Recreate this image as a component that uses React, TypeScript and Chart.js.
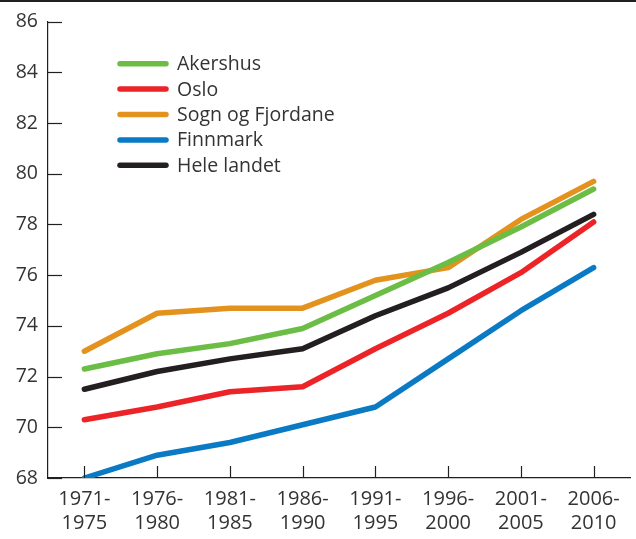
import React, { useEffect, useRef } from "react";
import { Chart, registerables } from "chart.js";

Chart.register(...registerables);

const categories: string[][] = [
  ["1971-", "1975"],
  ["1976-", "1980"],
  ["1981-", "1985"],
  ["1986-", "1990"],
  ["1991-", "1995"],
  ["1996-", "2000"],
  ["2001-", "2005"],
  ["2006-", "2010"],
];

const akershus = [72.3, 72.9, 73.3, 73.9, 75.2, 76.5, 77.9, 79.4];
const oslo = [70.3, 70.8, 71.4, 71.6, 73.1, 74.5, 76.1, 78.1];
const sognOgFjordane = [73.0, 74.5, 74.7, 74.7, 75.8, 76.3, 78.2, 79.7];
const finnmark = [68.0, 68.9, 69.4, 70.1, 70.8, 72.7, 74.6, 76.3];
const heleLandet = [71.5, 72.2, 72.7, 73.1, 74.4, 75.5, 76.9, 78.4];

const seriesNames = ["Akershus", "Oslo", "Sogn og Fjordane", "Finnmark", "Hele landet"];
const seriesColors = ["#6cbd45", "#ec2327", "#e3921e", "#0a7ac4", "#231f20"];

const yMin = 68;
const yMax = 86;
const yStep = 2;

const FONT_FAMILY = "'Open Sans', 'Noto Sans', sans-serif";
const TEXT_COLOR = "#333333";
const AXIS_COLOR = "#231f20";

const innerTicksAndLegend = {
  id: "innerTicksAndLegend",
  afterDraw(chart: any) {
    const ctx = chart.ctx;
    const area = chart.chartArea;
    const xs = chart.scales.x;
    const ys = chart.scales.y;
    ctx.save();
    ctx.strokeStyle = AXIS_COLOR;
    ctx.lineWidth = 1.2;
    // y ticks inward
    ys.ticks.forEach((t: any, i: number) => {
      const y = Math.round(ys.getPixelForTick(i)) + 0.5;
      ctx.beginPath();
      ctx.moveTo(area.left, y);
      ctx.lineTo(area.left + 14, y);
      ctx.stroke();
    });
    // x ticks inward
    categories.forEach((_, i) => {
      const x = Math.round(xs.getPixelForValue(i)) + 0.5;
      ctx.beginPath();
      ctx.moveTo(x, area.bottom);
      ctx.lineTo(x, area.bottom - 12);
      ctx.stroke();
    });
    // legend
    const lx = area.left + 72;
    const ly = area.top + 42;
    const rowH = 25.4;
    ctx.font = `19.5px ${FONT_FAMILY}`;
    ctx.textBaseline = "middle";
    ctx.textAlign = "left";
    chart.data.datasets.forEach((ds: any, i: number) => {
      const y = ly + i * rowH;
      ctx.strokeStyle = ds.borderColor;
      ctx.lineWidth = 5.5;
      ctx.lineCap = "round";
      ctx.beginPath();
      ctx.moveTo(lx, y);
      ctx.lineTo(lx + 46, y);
      ctx.stroke();
      ctx.fillStyle = TEXT_COLOR;
      ctx.fillText(ds.label, lx + 57, y + 1);
    });
    ctx.restore();
  },
};

export default function App() {
  const canvasRef = useRef<HTMLCanvasElement | null>(null);

  useEffect(() => {
    document.body.style.margin = "0";
    const canvas = canvasRef.current;
    if (!canvas) return;
    const values = [akershus, oslo, sognOgFjordane, finnmark, heleLandet];
    const chart = new Chart(canvas, {
      type: "line",
      data: {
        labels: categories,
        datasets: values.map((v, i) => ({
          label: seriesNames[i],
          data: v,
          borderColor: seriesColors[i],
          backgroundColor: seriesColors[i],
          borderWidth: 5.5,
          borderCapStyle: "round",
          borderJoinStyle: "round",
          pointRadius: 0,
          tension: 0,
          fill: false,
        })),
      },
      options: {
        animation: false,
        responsive: false,
        devicePixelRatio: 1,
        layout: { padding: { top: 19, right: 6, left: 0, bottom: 0 } },
        plugins: {
          legend: { display: false },
          tooltip: { enabled: false },
        },
        scales: {
          x: {
            offset: true,
            grid: { display: false, drawTicks: false },
            border: { display: true, color: AXIS_COLOR, width: 1.2 },
            ticks: {
              font: { family: FONT_FAMILY, size: 20, lineHeight: 1.22 },
              color: TEXT_COLOR,
              padding: 9,
              maxRotation: 0,
              autoSkip: false,
            },
            afterFit: (s: any) => {
              s.height = 61;
            },
          },
          y: {
            min: yMin,
            max: yMax,
            grid: { display: false, drawTicks: false },
            border: { display: true, color: AXIS_COLOR, width: 1.2 },
            ticks: {
              stepSize: yStep,
              font: { family: FONT_FAMILY, size: 19.5 },
              color: TEXT_COLOR,
              padding: 10,
            },
            afterFit: (s: any) => {
              s.width = 48;
            },
          },
        },
      },
      plugins: [innerTicksAndLegend],
    } as any);
    return () => chart.destroy();
  }, []);

  return (
    <div style={{ position: "relative", width: 636, height: 539, background: "#fff" }}>
      <div
        style={{
          position: "absolute",
          left: 0,
          top: 0,
          width: 636,
          height: 2,
          background: AXIS_COLOR,
        }}
      />
      <canvas ref={canvasRef} width={636} height={539} style={{ display: "block" }} />
    </div>
  );
}
